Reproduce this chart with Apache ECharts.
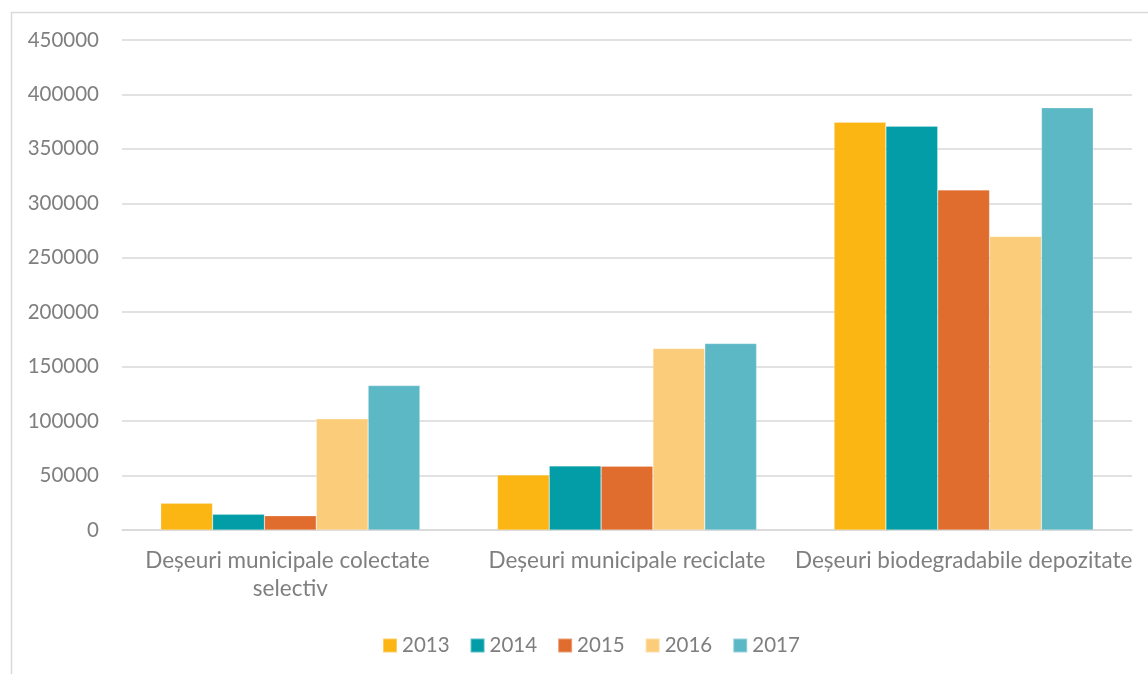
<!DOCTYPE html>
<html>
<head>
<meta charset="utf-8">
<script src="https://cdn.jsdelivr.net/npm/echarts@6/dist/echarts.min.js"></script>
<style>
html,body{margin:0;padding:0;background:#fff;}
#chart{width:1148px;height:674px;}
</style>
</head>
<body>
<div id="chart"></div>
<script>
const categories = ['Deșeuri municipale colectate selectiv', 'Deșeuri municipale reciclate', 'Deșeuri biodegradabile depozitate'];
const years = ['2013', '2014', '2015', '2016', '2017'];
const v2013 = [24500, 50600, 374500];
const v2014 = [14400, 58900, 370900];
const v2015 = [13100, 58600, 312400];
const v2016 = [102100, 166700, 269600];
const v2017 = [132700, 171300, 387800];
const seriesValues = [v2013, v2014, v2015, v2016, v2017];
const colors = ['#FBB614', '#029DA7', '#E06C2E', '#FBCD7A', '#5DB8C6'];

const font = 'Lato';
const textColor = '#7F7F7F';

const chart = echarts.init(document.getElementById('chart'), null, {renderer: 'canvas'});
chart.setOption({
  animation: false,
  backgroundColor: '#fff',
  textStyle: {fontFamily: font},
  graphic: [{
    type: 'rect', left: 9, top: 10, silent: true,
    shape: {width: 1160, height: 700},
    style: {fill: 'none', stroke: '#D9D9D9', lineWidth: 1.5}
  }],
  grid: {left: 122, right: 16, top: 40, bottom: 144, containLabel: false},
  legend: {
    bottom: 13, left: 377,
    itemWidth: 14, itemHeight: 14, itemGap: 20,
    icon: 'rect',
    textStyle: {color: textColor, fontSize: 20.5, fontFamily: font},
    data: years
  },
  xAxis: {
    type: 'category', data: categories,
    axisLine: {lineStyle: {color: '#D9D9D9', width: 1.5}},
    axisTick: {show: false},
    axisLabel: {
      color: textColor, fontSize: 22.5, fontFamily: font, margin: 17,
      lineHeight: 28, width: 358, overflow: 'break', interval: 0
    }
  },
  yAxis: {
    type: 'value', min: 0, max: 450000, interval: 50000,
    axisLine: {show: false}, axisTick: {show: false},
    splitLine: {lineStyle: {color: '#D9D9D9', width: 1.5}},
    axisLabel: {color: textColor, fontSize: 20.5, fontFamily: font, margin: 23,
      formatter: v => String(v)}
  },
  series: years.map((y, i) => ({
    name: y, type: 'bar', data: seriesValues[i],
    barGap: '0%', barCategoryGap: '23%',
    itemStyle: {color: colors[i], borderColor: 'rgba(255,255,255,0.35)', borderWidth: 0.6}
  }))
});
</script>
</body>
</html>
